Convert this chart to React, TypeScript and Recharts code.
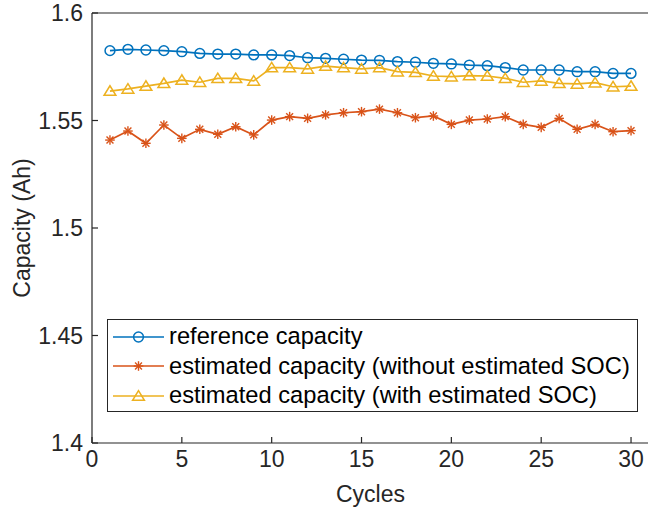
import { LineChart, Line, XAxis, YAxis, Label } from 'recharts';

const cycles = [1, 2, 3, 4, 5, 6, 7, 8, 9, 10, 11, 12, 13, 14, 15, 16, 17, 18, 19, 20, 21, 22, 23, 24, 25, 26, 27, 28, 29, 30];

const referenceCapacity = [
  1.5825, 1.5831, 1.5828, 1.5825, 1.582, 1.5812, 1.5809, 1.5809, 1.5805, 1.5805,
  1.5802, 1.5792, 1.5789, 1.5785, 1.5781, 1.578, 1.5774, 1.5771, 1.5766, 1.5763,
  1.5758, 1.5755, 1.5746, 1.5735, 1.5735, 1.5735, 1.5727, 1.5727, 1.5719, 1.5719,
];

const estWithoutSoc = [
  1.5409, 1.5451, 1.5394, 1.5479, 1.5417, 1.5459, 1.5436, 1.5471, 1.5433, 1.5502,
  1.5518, 1.551, 1.5526, 1.5536, 1.5541, 1.5553, 1.5536, 1.5513, 1.5521, 1.5482,
  1.5502, 1.5507, 1.5518, 1.5482, 1.5468, 1.551, 1.5459, 1.5482, 1.5448, 1.5453,
];

const estWithSoc = [
  1.5637, 1.5647, 1.566, 1.5673, 1.5688, 1.5678, 1.5696, 1.5696, 1.5684, 1.5746,
  1.5746, 1.574, 1.5753, 1.5746, 1.574, 1.5746, 1.5727, 1.5724, 1.5707, 1.5704,
  1.5709, 1.5707, 1.5696, 1.5678, 1.5684, 1.5673, 1.567, 1.5676, 1.5657, 1.566,
];

const xTicks = [0, 5, 10, 15, 20, 25, 30];
const yTicks = [1.4, 1.45, 1.5, 1.55, 1.6];

const seriesNames = [
  'reference capacity',
  'estimated capacity (without estimated SOC)',
  'estimated capacity (with estimated SOC)',
];

const BLUE = '#0072BD';
const RED = '#D95319';
const YELLOW = '#EDB120';
const AXIS = '#262626';
const FONT = '"Liberation Sans", Arial, Helvetica, sans-serif';
const FS = 23;

const data = cycles.map((c, i) => ({
  cycle: c,
  ref: referenceCapacity[i],
  without: estWithoutSoc[i],
  withSoc: estWithSoc[i],
}));

function circleMark(cx: number, cy: number, color: string, key?: any) {
  return <circle key={key} cx={cx} cy={cy} r={4.9} fill="none" stroke={color} strokeWidth={1.5} />;
}

function starMark(cx: number, cy: number, color: string, key?: any) {
  const r = 4.8;
  const d = r * 0.72;
  return (
    <g key={key} stroke={color} strokeWidth={1.4}>
      <line x1={cx - r} y1={cy} x2={cx + r} y2={cy} />
      <line x1={cx} y1={cy - r} x2={cx} y2={cy + r} />
      <line x1={cx - d} y1={cy - d} x2={cx + d} y2={cy + d} />
      <line x1={cx - d} y1={cy + d} x2={cx + d} y2={cy - d} />
    </g>
  );
}

function triangleMark(cx: number, cy: number, color: string, key?: any) {
  const h = 5.3;
  const w = 5.9;
  return (
    <polygon
      key={key}
      points={`${cx},${cy - h} ${cx - w},${cy + h * 0.8} ${cx + w},${cy + h * 0.8}`}
      fill="none"
      stroke={color}
      strokeWidth={1.5}
    />
  );
}

const legendRows = [
  { name: seriesNames[0], color: BLUE, mark: circleMark },
  { name: seriesNames[1], color: RED, mark: starMark },
  { name: seriesNames[2], color: YELLOW, mark: triangleMark },
];

function LegendBox() {
  return (
    <div
      style={{
        position: 'absolute',
        left: 107,
        top: 319,
        border: `1px solid ${AXIS}`,
        background: '#fff',
        width: 531,
        height: 93,
        boxSizing: 'border-box',
        paddingTop: 2,
      }}
    >
      {legendRows.map((row) => (
        <div key={row.name} style={{ display: 'flex', alignItems: 'center', height: 29.5 }}>
          <svg width={56} height={20} style={{ marginLeft: 5, flexShrink: 0 }}>
            <line x1={0} y1={10} x2={51} y2={10} stroke={row.color} strokeWidth={1.6} />
            {row.mark(25.5, 10, row.color)}
          </svg>
          <span style={{ fontFamily: FONT, fontSize: 23.7, color: '#000', whiteSpace: 'nowrap' }}>{row.name}</span>
        </div>
      ))}
    </div>
  );
}

function yAxisTitle(props: any) {
  const vb = props.viewBox;
  const cx = vb.x + 22;
  const cy = vb.y + vb.height / 2;
  return (
    <text
      x={cx}
      y={cy}
      transform={`rotate(-90 ${cx} ${cy})`}
      textAnchor="middle"
      dominantBaseline="central"
      fontFamily={FONT}
      fontSize={FS}
      fill={AXIS}
    >
      Capacity (Ah)
    </text>
  );
}

function xAxisTitle(props: any) {
  const vb = props.viewBox;
  const cx = vb.x + vb.width / 2;
  const cy = vb.y + 51;
  return (
    <text x={cx} y={cy} textAnchor="middle" dominantBaseline="central" fontFamily={FONT} fontSize={FS} fill={AXIS}>
      Cycles
    </text>
  );
}

const tickStyle = { fontFamily: FONT, fontSize: FS, fill: AXIS };

export default function App() {
  return (
    <div style={{ position: 'absolute', left: 0, top: 0, width: 648, height: 511, background: '#fff', overflow: 'hidden' }}>
      <LineChart width={650} height={511} data={data} margin={{ top: 12, right: 0, left: 0, bottom: 0 }}>
        <XAxis
          dataKey="cycle"
          type="number"
          domain={[0, 31]}
          ticks={xTicks}
          height={68}
          tickSize={-6}
          tickMargin={14}
          tick={tickStyle}
          axisLine={{ stroke: AXIS, strokeWidth: 1.2 }}
          tickLine={{ stroke: AXIS, strokeWidth: 1.2 }}
          interval={0}
        >
          <Label content={xAxisTitle} />
        </XAxis>
        <XAxis
          xAxisId="top"
          dataKey="cycle"
          type="number"
          orientation="top"
          domain={[0, 31]}
          ticks={xTicks}
          height={1}
          tickSize={-6}
          tick={false}
          axisLine={{ stroke: AXIS, strokeWidth: 1.2 }}
          tickLine={{ stroke: AXIS, strokeWidth: 1.2 }}
        />
        <YAxis
          type="number"
          domain={[1.4, 1.6]}
          ticks={yTicks}
          width={92}
          tickSize={-6}
          tickMargin={15}
          tick={tickStyle}
          tickFormatter={(v: number) => String(v)}
          axisLine={{ stroke: AXIS, strokeWidth: 1.2 }}
          tickLine={{ stroke: AXIS, strokeWidth: 1.2 }}
          interval={0}
        >
          <Label content={yAxisTitle} />
        </YAxis>
        <YAxis
          yAxisId="right"
          orientation="right"
          type="number"
          domain={[1.4, 1.6]}
          ticks={yTicks}
          width={1}
          tickSize={-6}
          tick={false}
          axisLine={{ stroke: AXIS, strokeWidth: 1.2 }}
          tickLine={{ stroke: AXIS, strokeWidth: 1.2 }}
        />
        <Line
          name={seriesNames[0]}
          dataKey="ref"
          stroke={BLUE}
          strokeWidth={1.7}
          isAnimationActive={false}
          dot={(p: any) => circleMark(p.cx, p.cy, BLUE, p.key ?? p.index)}
        />
        <Line
          name={seriesNames[1]}
          dataKey="without"
          stroke={RED}
          strokeWidth={1.7}
          isAnimationActive={false}
          dot={(p: any) => starMark(p.cx, p.cy, RED, p.key ?? p.index)}
        />
        <Line
          name={seriesNames[2]}
          dataKey="withSoc"
          stroke={YELLOW}
          strokeWidth={1.7}
          isAnimationActive={false}
          dot={(p: any) => triangleMark(p.cx, p.cy, YELLOW, p.key ?? p.index)}
        />
      </LineChart>
      <LegendBox />
    </div>
  );
}
